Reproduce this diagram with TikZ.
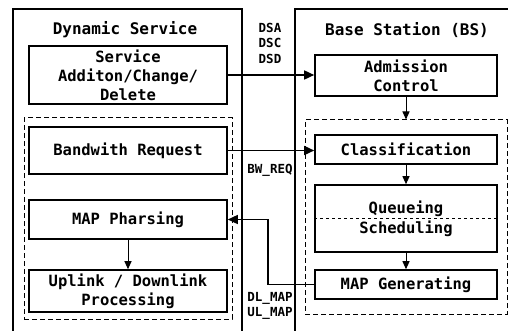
\documentclass[tikz,border=0pt]{standalone}
\usepackage{fontspec}
\setmonofont{DejaVu Sans Mono}
\usetikzlibrary{arrows.meta}

\begin{document}
\begin{tikzpicture}[x=1pt,y=-1pt,
    box/.style={draw,line width=1.6pt,align=center,inner sep=0pt,font=\ttfamily\bfseries\fontsize{15.5}{19}\selectfont},
    grp/.style={draw,line width=1pt,dash pattern=on 5pt off 3pt,inner sep=0pt},
    outer/.style={line width=1.8pt},
    title/.style={font=\ttfamily\bfseries\fontsize{16}{19}\selectfont},
    lbl/.style={align=left,inner sep=0pt,font=\ttfamily\bfseries\fontsize{12.5}{15.5}\selectfont},
    big/.style={line width=1.5pt,-{Triangle[length=10pt,width=9pt]}},
    small/.style={line width=1pt,-{Triangle[length=8pt,width=7pt]}}]
    \useasboundingbox (0,0) rectangle (508,331);

    \draw[outer] (13,334) -- (13,9) -- (242,9) -- (242,334);
    \draw[outer] (295,334) -- (295,9) -- (511,9);
    \node[title] (dyn) at (125,30) {Dynamic Service};
    \node[title] (bs) at (407,30) {Base Station (BS)};

    \node[grp,minimum width=208,minimum height=201] (ssgrp) at (128,218.5) {};
    \node[grp,minimum width=202,minimum height=194] (bsgrp) at (406,217) {};

    \node[box,minimum width=198,minimum height=58] (serv) at (128,75) {Service\\Additon/Change/\\Delete};
    \node[box,minimum width=198,minimum height=47] (bwreq) at (128,150.5) {Bandwith Request};
    \node[box,minimum width=198,minimum height=39] (mappars) at (128,219.5) {MAP Pharsing};
    \node[box,minimum width=198,minimum height=42] (updown) at (128,291) {Uplink / Downlink\\Processing};

    \node[box,minimum width=182,minimum height=41] (adm) at (406,75.5) {Admission\\Control};
    \node[box,minimum width=182,minimum height=29] (cls) at (406,149.5) {Classification};
    \node[box,minimum width=182,minimum height=67] (queue) at (406,218.5) {Queueing\\[1pt]Scheduling};
    \node[box,minimum width=182,minimum height=29] (mapgen) at (406,284.5) {MAP Generating};
    \draw[dashed,line width=0.9pt] (queue.west) -- (queue.east);

    \node[lbl] (dsx) at (270,43) {DSA\\DSC\\DSD};
    \node[lbl] (bwlbl) at (270,170) {BW\_REQ};
    \node[lbl] (maplbl) at (270,306) {DL\_MAP\\UL\_MAP};
    \coordinate (bend) at (268,0);

    \draw[big] (serv.east) -- (serv.east -| adm.west);
    \draw[big] (bwreq.east) -- (bwreq.east -| cls.west);
    \draw[big] (mapgen.west) -- (mapgen.west -| bend) |- (mappars.east);
    \draw[small] (adm.south) -- (bsgrp.north);
    \draw[small] (cls.south) -- (queue.north);
    \draw[small] (queue.south) -- (mapgen.north);
    \draw[small] (mappars.south) -- (updown.north);
\end{tikzpicture}
\end{document}
